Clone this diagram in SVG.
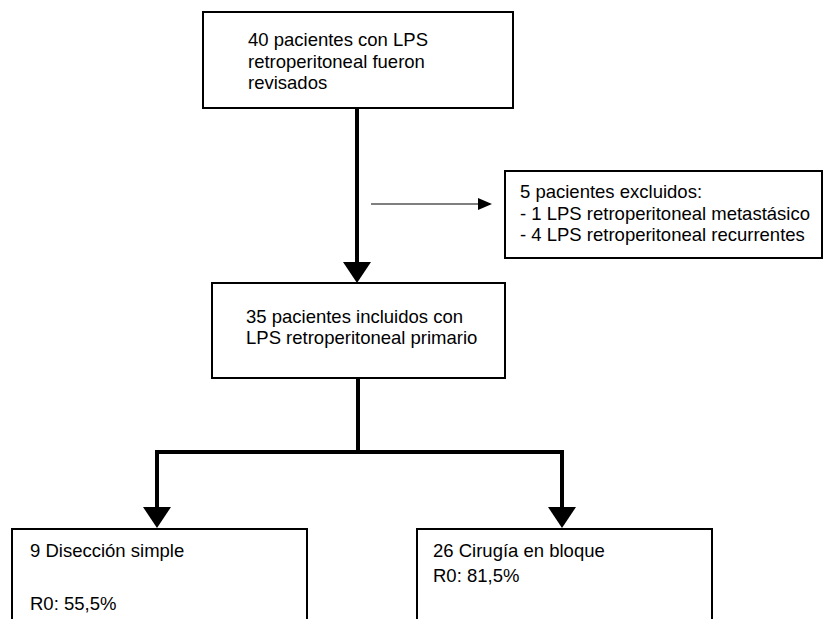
<svg xmlns="http://www.w3.org/2000/svg" width="828" height="619" viewBox="0 0 828 619">
<defs>
<style>
.box{fill:#fff;stroke:#000;stroke-width:2}
.t{font-family:"Liberation Sans",Arial,sans-serif;font-size:18.5px;fill:#000}
.thick{fill:none;stroke:#000;stroke-width:4}
.thin{fill:none;stroke:#000;stroke-width:1.2}
.head{fill:#000}
</style>
</defs>
<rect width="828" height="619" fill="#fff"/>
<g id="connectors">
<line class="thick" x1="357" y1="108" x2="357" y2="264"/>
<polygon class="head" points="343,262 371,262 357,283"/>
<line class="thin" x1="371" y1="204" x2="480" y2="204"/>
<polygon class="head" points="478,198 492,204 478,210"/>
<polyline class="thick" points="358,378 358,452"/>
<polyline class="thick" points="157,509 157,452 562,452 562,509"/>
<polygon class="head" points="143,507 171,507 157,528"/>
<polygon class="head" points="548,507 576,507 562,528"/>
</g>
<g id="n1">
<rect class="box" x="203" y="12" width="310" height="96"/>
<text class="t" x="248" y="46">40 pacientes con LPS</text>
<text class="t" x="248" y="68">retroperitoneal fueron</text>
<text class="t" x="248" y="89">revisados</text>
</g>
<g id="n2">
<rect class="box" x="505" y="171" width="317" height="87"/>
<text class="t" x="520" y="198">5 pacientes excluidos:</text>
<text class="t" x="520" y="220">- 1 LPS retroperitoneal metastásico</text>
<text class="t" x="520" y="241">- 4 LPS retroperitoneal recurrentes</text>
</g>
<g id="n3">
<rect class="box" x="212" y="283" width="293" height="95"/>
<text class="t" x="246" y="323">35 pacientes incluidos con</text>
<text class="t" x="246" y="344">LPS retroperitoneal primario</text>
</g>
<g id="n4">
<rect class="box" x="12" y="529" width="295" height="100"/>
<text class="t" x="30" y="557">9 Disección simple</text>
<text class="t" x="30" y="610">R0: 55,5%</text>
</g>
<g id="n5">
<rect class="box" x="417" y="529" width="295" height="100"/>
<text class="t" x="433" y="557">26 Cirugía en bloque</text>
<text class="t" x="433" y="582">R0: 81,5%</text>
</g>
</svg>
